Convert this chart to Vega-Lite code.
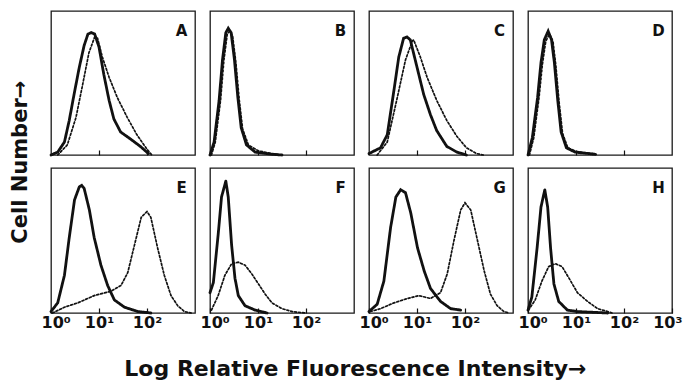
{
  "$schema": "https://vega.github.io/schema/vega-lite/v6.json",
  "padding": {"top": 10, "left": 10, "right": 5, "bottom": 5},
  "background": "white",
  "title": {"text": "Cell Number→", "orient": "left", "font": "DejaVu Sans", "fontWeight": "bold", "fontSize": 21, "color": "#111", "offset": 9, "dx": 136},
  "datasets": {
    "h": [
      {"p":"A","s":"solid","x":0,"y":0},{"p":"A","s":"solid","x":0.14,"y":2},{"p":"A","s":"solid","x":0.28,"y":9},{"p":"A","s":"solid","x":0.38,"y":24},{"p":"A","s":"solid","x":0.48,"y":42},{"p":"A","s":"solid","x":0.59,"y":61},{"p":"A","s":"solid","x":0.69,"y":76},{"p":"A","s":"solid","x":0.77,"y":84},{"p":"A","s":"solid","x":0.84,"y":85},{"p":"A","s":"solid","x":0.91,"y":84},{"p":"A","s":"solid","x":1.0,"y":75},{"p":"A","s":"solid","x":1.1,"y":56},{"p":"A","s":"solid","x":1.21,"y":38},{"p":"A","s":"solid","x":1.31,"y":25},{"p":"A","s":"solid","x":1.45,"y":16},{"p":"A","s":"solid","x":1.66,"y":11},{"p":"A","s":"solid","x":1.86,"y":6},{"p":"A","s":"solid","x":2.03,"y":1},
      {"p":"A","s":"dotted","x":0.14,"y":0},{"p":"A","s":"dotted","x":0.34,"y":7},{"p":"A","s":"dotted","x":0.52,"y":26},{"p":"A","s":"dotted","x":0.66,"y":49},{"p":"A","s":"dotted","x":0.79,"y":71},{"p":"A","s":"dotted","x":0.91,"y":82},{"p":"A","s":"dotted","x":0.97,"y":81},{"p":"A","s":"dotted","x":1.07,"y":68},{"p":"A","s":"dotted","x":1.21,"y":54},{"p":"A","s":"dotted","x":1.38,"y":40},{"p":"A","s":"dotted","x":1.59,"y":26},{"p":"A","s":"dotted","x":1.79,"y":14},{"p":"A","s":"dotted","x":2.0,"y":4},{"p":"A","s":"dotted","x":2.1,"y":0},
      {"p":"B","s":"solid","x":0,"y":0},{"p":"B","s":"solid","x":0.085,"y":9},{"p":"B","s":"solid","x":0.19,"y":38},{"p":"B","s":"solid","x":0.26,"y":66},{"p":"B","s":"solid","x":0.33,"y":85},{"p":"B","s":"solid","x":0.38,"y":88},{"p":"B","s":"solid","x":0.44,"y":85},{"p":"B","s":"solid","x":0.51,"y":66},{"p":"B","s":"solid","x":0.58,"y":40},{"p":"B","s":"solid","x":0.65,"y":19},{"p":"B","s":"solid","x":0.76,"y":7},{"p":"B","s":"solid","x":0.94,"y":2},{"p":"B","s":"solid","x":1.29,"y":0.5},{"p":"B","s":"solid","x":1.5,"y":0},
      {"p":"B","s":"dotted","x":0.03,"y":0},{"p":"B","s":"dotted","x":0.11,"y":9},{"p":"B","s":"dotted","x":0.22,"y":38},{"p":"B","s":"dotted","x":0.29,"y":66},{"p":"B","s":"dotted","x":0.36,"y":84},{"p":"B","s":"dotted","x":0.41,"y":86},{"p":"B","s":"dotted","x":0.47,"y":83},{"p":"B","s":"dotted","x":0.54,"y":64},{"p":"B","s":"dotted","x":0.61,"y":38},{"p":"B","s":"dotted","x":0.68,"y":18},{"p":"B","s":"dotted","x":0.8,"y":7},{"p":"B","s":"dotted","x":1.0,"y":3},{"p":"B","s":"dotted","x":1.2,"y":1.5},{"p":"B","s":"dotted","x":1.4,"y":0.5},
      {"p":"C","s":"solid","x":0,"y":1},{"p":"C","s":"solid","x":0.24,"y":5},{"p":"C","s":"solid","x":0.38,"y":14},{"p":"C","s":"solid","x":0.52,"y":45},{"p":"C","s":"solid","x":0.62,"y":68},{"p":"C","s":"solid","x":0.72,"y":81},{"p":"C","s":"solid","x":0.79,"y":82},{"p":"C","s":"solid","x":0.86,"y":80},{"p":"C","s":"solid","x":1.0,"y":61},{"p":"C","s":"solid","x":1.14,"y":42},{"p":"C","s":"solid","x":1.28,"y":28},{"p":"C","s":"solid","x":1.41,"y":17},{"p":"C","s":"solid","x":1.62,"y":6},{"p":"C","s":"solid","x":1.83,"y":2},{"p":"C","s":"solid","x":2.03,"y":0},
      {"p":"C","s":"dotted","x":0.17,"y":0},{"p":"C","s":"dotted","x":0.38,"y":9},{"p":"C","s":"dotted","x":0.59,"y":40},{"p":"C","s":"dotted","x":0.76,"y":66},{"p":"C","s":"dotted","x":0.9,"y":79},{"p":"C","s":"dotted","x":0.93,"y":80},{"p":"C","s":"dotted","x":1.07,"y":68},{"p":"C","s":"dotted","x":1.21,"y":54},{"p":"C","s":"dotted","x":1.41,"y":38},{"p":"C","s":"dotted","x":1.62,"y":24},{"p":"C","s":"dotted","x":1.83,"y":13},{"p":"C","s":"dotted","x":2.03,"y":5},{"p":"C","s":"dotted","x":2.24,"y":1},{"p":"C","s":"dotted","x":2.38,"y":0},
      {"p":"D","s":"solid","x":0,"y":0},{"p":"D","s":"solid","x":0.09,"y":12},{"p":"D","s":"solid","x":0.2,"y":40},{"p":"D","s":"solid","x":0.27,"y":64},{"p":"D","s":"solid","x":0.34,"y":80},{"p":"D","s":"solid","x":0.42,"y":86},{"p":"D","s":"solid","x":0.49,"y":80},{"p":"D","s":"solid","x":0.55,"y":64},{"p":"D","s":"solid","x":0.62,"y":38},{"p":"D","s":"solid","x":0.69,"y":16},{"p":"D","s":"solid","x":0.8,"y":5},{"p":"D","s":"solid","x":0.98,"y":2},{"p":"D","s":"solid","x":1.4,"y":0.5},
      {"p":"D","s":"dotted","x":0.03,"y":0},{"p":"D","s":"dotted","x":0.12,"y":12},{"p":"D","s":"dotted","x":0.23,"y":40},{"p":"D","s":"dotted","x":0.3,"y":63},{"p":"D","s":"dotted","x":0.37,"y":79},{"p":"D","s":"dotted","x":0.45,"y":84},{"p":"D","s":"dotted","x":0.52,"y":79},{"p":"D","s":"dotted","x":0.58,"y":62},{"p":"D","s":"dotted","x":0.65,"y":36},{"p":"D","s":"dotted","x":0.72,"y":15},{"p":"D","s":"dotted","x":0.83,"y":5},{"p":"D","s":"dotted","x":1.0,"y":2.5},{"p":"D","s":"dotted","x":1.2,"y":1.5},{"p":"D","s":"dotted","x":1.42,"y":0.5},
      {"p":"E","s":"solid","x":0,"y":1},{"p":"E","s":"solid","x":0.14,"y":7},{"p":"E","s":"solid","x":0.28,"y":26},{"p":"E","s":"solid","x":0.38,"y":52},{"p":"E","s":"solid","x":0.49,"y":78},{"p":"E","s":"solid","x":0.59,"y":87},{"p":"E","s":"solid","x":0.64,"y":88},{"p":"E","s":"solid","x":0.69,"y":86},{"p":"E","s":"solid","x":0.8,"y":71},{"p":"E","s":"solid","x":0.9,"y":52},{"p":"E","s":"solid","x":1.04,"y":33},{"p":"E","s":"solid","x":1.18,"y":19},{"p":"E","s":"solid","x":1.32,"y":9},{"p":"E","s":"solid","x":1.53,"y":4},{"p":"E","s":"solid","x":1.81,"y":1},{"p":"E","s":"solid","x":2.08,"y":0},
      {"p":"E","s":"dotted","x":0.03,"y":0},{"p":"E","s":"dotted","x":0.28,"y":4},{"p":"E","s":"dotted","x":0.56,"y":7},{"p":"E","s":"dotted","x":0.9,"y":12},{"p":"E","s":"dotted","x":1.25,"y":15},{"p":"E","s":"dotted","x":1.46,"y":19},{"p":"E","s":"dotted","x":1.6,"y":28},{"p":"E","s":"dotted","x":1.74,"y":47},{"p":"E","s":"dotted","x":1.88,"y":66},{"p":"E","s":"dotted","x":2.0,"y":70},{"p":"E","s":"dotted","x":2.08,"y":66},{"p":"E","s":"dotted","x":2.22,"y":45},{"p":"E","s":"dotted","x":2.36,"y":26},{"p":"E","s":"dotted","x":2.5,"y":12},{"p":"E","s":"dotted","x":2.64,"y":5},{"p":"E","s":"dotted","x":2.78,"y":1},{"p":"E","s":"dotted","x":2.92,"y":0},
      {"p":"F","s":"solid","x":0,"y":14},{"p":"F","s":"solid","x":0.07,"y":21},{"p":"F","s":"solid","x":0.17,"y":54},{"p":"F","s":"solid","x":0.24,"y":80},{"p":"F","s":"solid","x":0.33,"y":91},{"p":"F","s":"solid","x":0.38,"y":80},{"p":"F","s":"solid","x":0.45,"y":47},{"p":"F","s":"solid","x":0.52,"y":24},{"p":"F","s":"solid","x":0.59,"y":12},{"p":"F","s":"solid","x":0.73,"y":5},{"p":"F","s":"solid","x":0.94,"y":2},{"p":"F","s":"solid","x":1.19,"y":0},
      {"p":"F","s":"dotted","x":0.03,"y":2},{"p":"F","s":"dotted","x":0.17,"y":12},{"p":"F","s":"dotted","x":0.31,"y":26},{"p":"F","s":"dotted","x":0.45,"y":34},{"p":"F","s":"dotted","x":0.59,"y":35},{"p":"F","s":"dotted","x":0.73,"y":33},{"p":"F","s":"dotted","x":0.87,"y":27},{"p":"F","s":"dotted","x":1.01,"y":20},{"p":"F","s":"dotted","x":1.15,"y":13},{"p":"F","s":"dotted","x":1.29,"y":7},{"p":"F","s":"dotted","x":1.5,"y":3},{"p":"F","s":"dotted","x":1.71,"y":1},{"p":"F","s":"dotted","x":1.99,"y":0},
      {"p":"G","s":"solid","x":0,"y":1},{"p":"G","s":"solid","x":0.17,"y":6},{"p":"G","s":"solid","x":0.31,"y":22},{"p":"G","s":"solid","x":0.45,"y":59},{"p":"G","s":"solid","x":0.56,"y":80},{"p":"G","s":"solid","x":0.66,"y":85},{"p":"G","s":"solid","x":0.76,"y":83},{"p":"G","s":"solid","x":0.87,"y":69},{"p":"G","s":"solid","x":1.01,"y":45},{"p":"G","s":"solid","x":1.15,"y":29},{"p":"G","s":"solid","x":1.28,"y":17},{"p":"G","s":"solid","x":1.49,"y":8},{"p":"G","s":"solid","x":1.7,"y":3},{"p":"G","s":"solid","x":1.91,"y":2},
      {"p":"G","s":"dotted","x":0.03,"y":1},{"p":"G","s":"dotted","x":0.24,"y":3},{"p":"G","s":"dotted","x":0.52,"y":7},{"p":"G","s":"dotted","x":0.8,"y":10},{"p":"G","s":"dotted","x":1.04,"y":12},{"p":"G","s":"dotted","x":1.28,"y":10},{"p":"G","s":"dotted","x":1.49,"y":14},{"p":"G","s":"dotted","x":1.63,"y":27},{"p":"G","s":"dotted","x":1.77,"y":50},{"p":"G","s":"dotted","x":1.91,"y":71},{"p":"G","s":"dotted","x":2.0,"y":76},{"p":"G","s":"dotted","x":2.12,"y":71},{"p":"G","s":"dotted","x":2.26,"y":50},{"p":"G","s":"dotted","x":2.4,"y":29},{"p":"G","s":"dotted","x":2.53,"y":13},{"p":"G","s":"dotted","x":2.67,"y":5},{"p":"G","s":"dotted","x":2.81,"y":1},{"p":"G","s":"dotted","x":2.92,"y":0},
      {"p":"H","s":"solid","x":0,"y":2},{"p":"H","s":"solid","x":0.08,"y":11},{"p":"H","s":"solid","x":0.19,"y":45},{"p":"H","s":"solid","x":0.27,"y":73},{"p":"H","s":"solid","x":0.35,"y":85},{"p":"H","s":"solid","x":0.41,"y":73},{"p":"H","s":"solid","x":0.47,"y":45},{"p":"H","s":"solid","x":0.54,"y":20},{"p":"H","s":"solid","x":0.64,"y":8},{"p":"H","s":"solid","x":0.82,"y":2},{"p":"H","s":"solid","x":1.03,"y":1},{"p":"H","s":"solid","x":1.66,"y":0},
      {"p":"H","s":"dotted","x":0.01,"y":2},{"p":"H","s":"dotted","x":0.15,"y":9},{"p":"H","s":"dotted","x":0.29,"y":22},{"p":"H","s":"dotted","x":0.43,"y":32},{"p":"H","s":"dotted","x":0.57,"y":34},{"p":"H","s":"dotted","x":0.71,"y":32},{"p":"H","s":"dotted","x":0.89,"y":22},{"p":"H","s":"dotted","x":1.03,"y":14},{"p":"H","s":"dotted","x":1.24,"y":8},{"p":"H","s":"dotted","x":1.45,"y":3},{"p":"H","s":"dotted","x":1.66,"y":1},{"p":"H","s":"dotted","x":1.75,"y":0}
    ],
    "one": [{"k": 1}]
  },
  "config": {
    "view": {"stroke": "#1a1a1a", "strokeWidth": 1.3},
    "concat": {"spacing": 15},
    "axisX": {"domain": false, "grid": false, "tickSize": -5, "tickColor": "#111", "tickWidth": 1.2, "title": null, "labelFont": "DejaVu Sans", "labelFontWeight": "bold", "labelFontSize": 16, "labelColor": "#111", "labelPadding": 6, "labelFlush": true, "labelFlushOffset": 10,
      "labelExpr": "datum.value == 0 ? '10⁰' : datum.value == 1 ? '10¹' : datum.value == 2 ? '10²' : '10³'"},
    "text": {"font": "DejaVu Sans", "fontWeight": "bold", "fontSize": 15, "color": "#111"}
  },
  "spacing": 5,
  "vconcat": [
    {
      "spacing": 15,
      "bounds": "flush",
      "hconcat": [
        {"width": 144, "height": 144,
         "layer": [
          {"data": {"name": "h"}, "transform": [{"filter": "datum.p == 'A'"}], "mark": {"type": "line", "color": "#111", "strokeCap": "round"},
           "encoding": {"x": {"field": "x", "type": "quantitative", "scale": {"domain": [0, 3], "nice": false}, "axis": {"values": [1, 2], "labels": false}},
            "y": {"field": "y", "type": "quantitative", "scale": {"domain": [0, 100]}, "axis": null},
            "detail": {"field": "s"},
            "strokeDash": {"field": "s", "type": "nominal", "scale": {"domain": ["solid", "dotted"], "range": [[1, 0], [2, 2]]}, "legend": null},
            "strokeWidth": {"field": "s", "type": "nominal", "scale": {"domain": ["solid", "dotted"], "range": [2.8, 1.7]}, "legend": null}}},
          {"data": {"name": "one"}, "mark": {"type": "text", "align": "center", "baseline": "middle"}, "encoding": {"x": {"datum": 2.72}, "y": {"datum": 86}, "text": {"value": "A"}}}
         ]},
        {"width": 144, "height": 144,
         "layer": [
          {"data": {"name": "h"}, "transform": [{"filter": "datum.p == 'B'"}], "mark": {"type": "line", "color": "#111", "strokeCap": "round"},
           "encoding": {"x": {"field": "x", "type": "quantitative", "scale": {"domain": [0, 3], "nice": false}, "axis": {"values": [1, 2], "labels": false}},
            "y": {"field": "y", "type": "quantitative", "scale": {"domain": [0, 100]}, "axis": null},
            "detail": {"field": "s"},
            "strokeDash": {"field": "s", "type": "nominal", "scale": {"domain": ["solid", "dotted"], "range": [[1, 0], [2, 2]]}, "legend": null},
            "strokeWidth": {"field": "s", "type": "nominal", "scale": {"domain": ["solid", "dotted"], "range": [2.8, 2.2]}, "legend": null}}},
          {"data": {"name": "one"}, "mark": {"type": "text", "align": "center", "baseline": "middle"}, "encoding": {"x": {"datum": 2.72}, "y": {"datum": 86}, "text": {"value": "B"}}}
         ]},
        {"width": 144, "height": 144,
         "layer": [
          {"data": {"name": "h"}, "transform": [{"filter": "datum.p == 'C'"}], "mark": {"type": "line", "color": "#111", "strokeCap": "round"},
           "encoding": {"x": {"field": "x", "type": "quantitative", "scale": {"domain": [0, 3], "nice": false}, "axis": {"values": [1, 2], "labels": false}},
            "y": {"field": "y", "type": "quantitative", "scale": {"domain": [0, 100]}, "axis": null},
            "detail": {"field": "s"},
            "strokeDash": {"field": "s", "type": "nominal", "scale": {"domain": ["solid", "dotted"], "range": [[1, 0], [2, 2]]}, "legend": null},
            "strokeWidth": {"field": "s", "type": "nominal", "scale": {"domain": ["solid", "dotted"], "range": [2.8, 1.7]}, "legend": null}}},
          {"data": {"name": "one"}, "mark": {"type": "text", "align": "center", "baseline": "middle"}, "encoding": {"x": {"datum": 2.72}, "y": {"datum": 86}, "text": {"value": "C"}}}
         ]},
        {"width": 144, "height": 144,
         "layer": [
          {"data": {"name": "h"}, "transform": [{"filter": "datum.p == 'D'"}], "mark": {"type": "line", "color": "#111", "strokeCap": "round"},
           "encoding": {"x": {"field": "x", "type": "quantitative", "scale": {"domain": [0, 3], "nice": false}, "axis": {"values": [1, 2], "labels": false}},
            "y": {"field": "y", "type": "quantitative", "scale": {"domain": [0, 100]}, "axis": null},
            "detail": {"field": "s"},
            "strokeDash": {"field": "s", "type": "nominal", "scale": {"domain": ["solid", "dotted"], "range": [[1, 0], [2, 2]]}, "legend": null},
            "strokeWidth": {"field": "s", "type": "nominal", "scale": {"domain": ["solid", "dotted"], "range": [2.8, 2.2]}, "legend": null}}},
          {"data": {"name": "one"}, "mark": {"type": "text", "align": "center", "baseline": "middle"}, "encoding": {"x": {"datum": 2.72}, "y": {"datum": 86}, "text": {"value": "D"}}}
         ]}
      ]
    },
    {
      "spacing": 15,
      "bounds": "flush",
      "title": {"text": "Log Relative Fluorescence Intensity→", "orient": "bottom", "anchor": "start", "dx": 84, "font": "DejaVu Sans", "fontWeight": "bold", "fontSize": 22, "color": "#111", "offset": 28},
      "hconcat": [
        {"width": 144, "height": 145,
         "layer": [
          {"data": {"name": "h"}, "transform": [{"filter": "datum.p == 'E'"}], "mark": {"type": "line", "color": "#111", "strokeCap": "round"},
           "encoding": {"x": {"field": "x", "type": "quantitative", "scale": {"domain": [0, 3], "nice": false}, "axis": {"values": [0, 1, 2]}},
            "y": {"field": "y", "type": "quantitative", "scale": {"domain": [0, 100]}, "axis": null},
            "detail": {"field": "s"},
            "strokeDash": {"field": "s", "type": "nominal", "scale": {"domain": ["solid", "dotted"], "range": [[1, 0], [2, 2]]}, "legend": null},
            "strokeWidth": {"field": "s", "type": "nominal", "scale": {"domain": ["solid", "dotted"], "range": [2.8, 1.7]}, "legend": null}}},
          {"data": {"name": "one"}, "mark": {"type": "text", "align": "center", "baseline": "middle"}, "encoding": {"x": {"datum": 2.72}, "y": {"datum": 86}, "text": {"value": "E"}}}
         ]},
        {"width": 144, "height": 145,
         "layer": [
          {"data": {"name": "h"}, "transform": [{"filter": "datum.p == 'F'"}], "mark": {"type": "line", "color": "#111", "strokeCap": "round"},
           "encoding": {"x": {"field": "x", "type": "quantitative", "scale": {"domain": [0, 3], "nice": false}, "axis": {"values": [0, 1, 2]}},
            "y": {"field": "y", "type": "quantitative", "scale": {"domain": [0, 100]}, "axis": null},
            "detail": {"field": "s"},
            "strokeDash": {"field": "s", "type": "nominal", "scale": {"domain": ["solid", "dotted"], "range": [[1, 0], [2, 2]]}, "legend": null},
            "strokeWidth": {"field": "s", "type": "nominal", "scale": {"domain": ["solid", "dotted"], "range": [2.8, 1.7]}, "legend": null}}},
          {"data": {"name": "one"}, "mark": {"type": "text", "align": "center", "baseline": "middle"}, "encoding": {"x": {"datum": 2.72}, "y": {"datum": 86}, "text": {"value": "F"}}}
         ]},
        {"width": 144, "height": 145,
         "layer": [
          {"data": {"name": "h"}, "transform": [{"filter": "datum.p == 'G'"}], "mark": {"type": "line", "color": "#111", "strokeCap": "round"},
           "encoding": {"x": {"field": "x", "type": "quantitative", "scale": {"domain": [0, 3], "nice": false}, "axis": {"values": [0, 1, 2]}},
            "y": {"field": "y", "type": "quantitative", "scale": {"domain": [0, 100]}, "axis": null},
            "detail": {"field": "s"},
            "strokeDash": {"field": "s", "type": "nominal", "scale": {"domain": ["solid", "dotted"], "range": [[1, 0], [2, 2]]}, "legend": null},
            "strokeWidth": {"field": "s", "type": "nominal", "scale": {"domain": ["solid", "dotted"], "range": [2.8, 1.7]}, "legend": null}}},
          {"data": {"name": "one"}, "mark": {"type": "text", "align": "center", "baseline": "middle"}, "encoding": {"x": {"datum": 2.72}, "y": {"datum": 86}, "text": {"value": "G"}}}
         ]},
        {"width": 144, "height": 145,
         "layer": [
          {"data": {"name": "h"}, "transform": [{"filter": "datum.p == 'H'"}], "mark": {"type": "line", "color": "#111", "strokeCap": "round"},
           "encoding": {"x": {"field": "x", "type": "quantitative", "scale": {"domain": [0, 3], "nice": false}, "axis": {"values": [0, 1, 2, 3]}},
            "y": {"field": "y", "type": "quantitative", "scale": {"domain": [0, 100]}, "axis": null},
            "detail": {"field": "s"},
            "strokeDash": {"field": "s", "type": "nominal", "scale": {"domain": ["solid", "dotted"], "range": [[1, 0], [2, 2]]}, "legend": null},
            "strokeWidth": {"field": "s", "type": "nominal", "scale": {"domain": ["solid", "dotted"], "range": [2.8, 1.7]}, "legend": null}}},
          {"data": {"name": "one"}, "mark": {"type": "text", "align": "center", "baseline": "middle"}, "encoding": {"x": {"datum": 2.72}, "y": {"datum": 86}, "text": {"value": "H"}}}
         ]}
      ]
    }
  ]
}
